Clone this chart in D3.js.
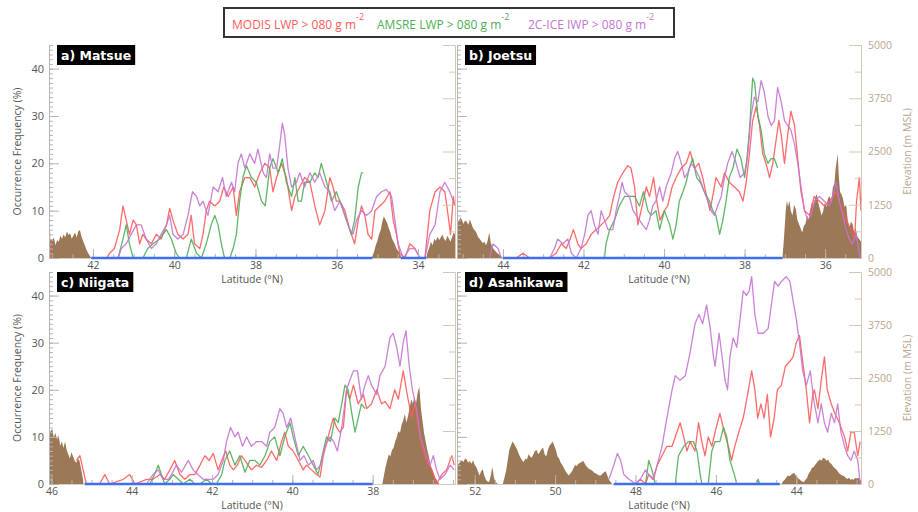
<!DOCTYPE html>
<html><head><meta charset="utf-8">
<script src="https://cdn.jsdelivr.net/npm/d3@7"></script>
<style>
body{margin:0;background:#fff;}
text{font-family:"Open Sans","DejaVu Sans",sans-serif;}
</style></head><body>
<svg id="chart" width="918" height="512"></svg>
<script>
// ---------- data: [latitude (°N), value] ----------
const seriesNames = ["MODIS LWP > 080 g m", "AMSRE LWP > 080 g m", "2C-ICE IWP > 080 g m"];
const panelTitles = ["a) Matsue", "b) Joetsu", "c) Niigata", "d) Asahikawa"];
const freqTicks = [0, 10, 20, 30, 40];
const elevTicks = [0, 1250, 2500, 3750, 5000];
const latTicksA = [42, 40, 38, 36, 34];
const latTicksB = [44, 42, 40, 38, 36];
const latTicksC = [46, 44, 42, 40, 38];
const latTicksD = [52, 50, 48, 46, 44];

// terrain elevation along the transect (m MSL)
const terrainA = [[43.08,300],[43.04,450],[43.0,400],[42.96,480],[42.92,300],[42.88,420],[42.84,380],[42.80,520],[42.76,450],[42.72,560],[42.68,480],[42.64,620],[42.60,540],[42.56,580],[42.52,450],[42.48,520],[42.44,600],[42.40,480],[42.36,620],[42.32,660],[42.28,500],[42.24,400],[42.20,300],[42.16,200],[42.12,120],[42.08,60],[42.04,0],
 [35.14,0],[35.08,150],[35.04,300],[35.0,400],[34.96,550],[34.92,650],[34.88,850],[34.84,980],[34.80,900],[34.76,820],[34.72,700],[34.68,600],[34.64,450],[34.60,380],[34.56,300],[34.52,200],[34.48,150],[34.44,80],[34.40,0],
 [33.80,0],[33.76,150],[33.72,250],[33.68,380],[33.64,300],[33.60,450],[33.56,400],[33.52,500],[33.48,420],[33.44,480],[33.40,550],[33.36,450],[33.32,400],[33.28,520],[33.24,450],[33.20,380],[33.16,500],[33.12,600],[33.09,550]];
const terrainB = [[45.14,900],[45.10,850],[45.06,950],[45.02,900],[44.98,800],[44.94,880],[44.90,850],[44.86,780],[44.82,900],[44.78,800],[44.74,700],[44.70,650],[44.66,600],[44.62,500],[44.58,450],[44.54,400],[44.50,350],[44.46,380],[44.42,300],[44.38,400],[44.34,600],[44.30,350],[44.26,250],[44.22,200],[44.18,150],[44.12,100],[44.06,50],[44.00,0],
 [37.06,0],[37.02,500],[36.98,1100],[36.95,1350],[36.92,1200],[36.89,1350],[36.85,1100],[36.81,1000],[36.77,1250],[36.73,1150],[36.69,900],[36.65,800],[36.61,700],[36.57,600],[36.53,750],[36.49,800],[36.45,1000],[36.41,900],[36.37,1100],[36.33,1300],[36.29,1200],[36.25,1400],[36.21,1500],[36.17,1300],[36.13,1150],[36.09,1000],[36.05,1100],[36.01,1300],[35.97,1200],[35.93,1400],[35.89,1450],[35.85,1300],[35.81,1650],[35.77,1750],[35.74,2100],[35.71,2300],[35.69,2450],[35.66,1900],[35.63,1550],[35.60,1500],[35.56,1400],[35.52,1200],[35.48,1250],[35.44,900],[35.40,700],[35.36,850],[35.32,800],[35.28,600],[35.24,700],[35.20,500],[35.16,450],[35.11,380]];
const terrainC = [[46.06,1150],[46.02,1250],[45.98,1300],[45.94,1100],[45.90,1200],[45.86,1050],[45.82,1150],[45.78,900],[45.74,1000],[45.70,850],[45.66,1000],[45.62,800],[45.58,700],[45.54,600],[45.50,750],[45.46,650],[45.42,550],[45.38,500],[45.34,600],[45.30,550],[45.26,350],[45.22,150],[45.20,0],
 [37.76,0],[37.72,200],[37.68,400],[37.64,550],[37.60,700],[37.56,650],[37.52,800],[37.48,850],[37.44,1000],[37.40,1100],[37.36,1250],[37.32,1200],[37.28,1400],[37.24,1500],[37.20,1650],[37.16,1450],[37.12,1600],[37.08,1800],[37.04,2000],[37.00,1900],[36.96,2050],[36.92,1900],[36.88,2150],[36.84,2300],[36.80,1800],[36.76,1500],[36.72,1200],[36.68,1000],[36.64,800],[36.60,650],[36.56,450],[36.52,350],[36.48,250],[36.44,150],[36.40,80],[36.34,0]];
const terrainD = [[52.44,400],[52.40,480],[52.36,520],[52.32,560],[52.28,520],[52.24,600],[52.20,580],[52.16,500],[52.12,540],[52.08,480],[52.04,560],[52.00,450],[51.96,400],[51.92,300],[51.88,200],[51.84,300],[51.80,350],[51.76,200],[51.72,100],[51.68,60],[51.64,50],[51.60,200],[51.56,400],[51.52,150],[51.48,50],[51.42,0],[51.30,0],[51.26,150],[51.22,300],[51.18,550],[51.14,800],[51.10,900],[51.06,1000],[51.02,950],[50.98,880],[50.94,800],[50.90,700],[50.86,620],[50.82,560],[50.78,520],[50.74,600],[50.70,580],[50.66,700],[50.62,650],[50.58,620],[50.54,700],[50.50,780],[50.46,800],[50.42,700],[50.38,750],[50.34,820],[50.30,860],[50.26,700],[50.22,650],[50.18,800],[50.14,900],[50.10,950],[50.06,1000],[50.02,900],[49.98,800],[49.94,650],[49.90,600],[49.86,500],[49.82,450],[49.78,380],[49.74,300],[49.70,250],[49.66,200],[49.62,250],[49.58,300],[49.54,380],[49.50,450],[49.46,420],[49.42,480],[49.38,500],[49.34,520],[49.30,550],[49.26,480],[49.22,420],[49.18,380],[49.14,350],[49.10,330],[49.06,300],[49.02,260],[48.98,250],[48.94,220],[48.90,200],[48.86,200],[48.82,250],[48.78,280],[48.74,300],[48.70,200],[48.66,100],[48.62,50],[48.58,0],
 [44.37,0],[44.33,60],[44.29,100],[44.25,150],[44.21,200],[44.17,180],[44.13,220],[44.09,250],[44.05,260],[44.01,200],[43.97,150],[43.93,120],[43.89,80],[43.85,60],[43.81,50],[43.77,100],[43.73,150],[43.69,250],[43.65,300],[43.61,380],[43.57,400],[43.53,450],[43.49,500],[43.45,550],[43.41,580],[43.37,550],[43.33,620],[43.29,600],[43.25,550],[43.21,580],[43.17,500],[43.13,480],[43.09,420],[43.05,380],[43.01,350],[42.97,300],[42.93,250],[42.89,220],[42.85,200],[42.81,180],[42.77,150],[42.73,120],[42.69,150],[42.65,100],[42.61,120],[42.57,100],[42.53,150],[42.49,130],[42.45,150],[42.41,100],[42.39,80]];

// sea stretches of each transect [from, to]
const seaA = [[42.04,35.12],[34.42,33.80]];
const seaB = [[44.00,37.06]];
const seaC = [[45.17,38.00]];
const seaD = [[48.54,44.41]];

// occurrence frequency (%), null = gap
const modisA = [[43.08,8.5],[43.06,3],[43.04,0],[43.0,null],[41.66,0],[41.59,1],[41.47,2],[41.34,6],[41.26,11],[41.18,8],[41.10,5],[41.01,8],[40.93,7],[40.85,3],[40.77,5],[40.69,4],[40.56,3],[40.44,5],[40.32,4],[40.19,7],[40.11,10.5],[40.03,8],[39.91,5],[39.78,4],[39.66,5],[39.58,9],[39.50,3],[39.37,2],[39.29,5],[39.21,10],[39.13,12],[39.00,11],[38.88,12],[38.78,15],[38.67,13],[38.55,15],[38.47,9],[38.39,14],[38.26,17],[38.14,17],[38.02,15],[37.89,18],[37.77,20],[37.65,19],[37.57,14],[37.48,17],[37.36,20],[37.24,17],[37.11,10],[37.03,13],[36.91,15],[36.79,17],[36.66,16],[36.54,11],[36.42,7],[36.29,10],[36.17,17],[36.09,15],[36.01,12],[35.92,12],[35.80,10],[35.68,6],[35.56,3],[35.47,8],[35.39,11],[35.31,9],[35.23,5],[35.14,4],[35.06,10],[34.94,11],[34.82,12],[34.69,14],[34.61,8],[34.53,5],[34.45,1],[34.32,0],[34.20,3],[34.08,2],[33.95,0],[33.83,0],[33.71,10],[33.58,14],[33.46,15],[33.34,14],[33.26,9],[33.20,5],[33.13,13],[33.10,11]];
const amsreA = [[41.38,0],[41.26,4],[41.18,7],[41.10,3],[41.01,0],[40.77,0],[40.65,2],[40.52,3],[40.36,4],[40.19,6],[40.07,4],[39.95,1],[39.87,0],[39.70,0],[39.58,4],[39.45,1],[39.33,0],[39.21,3],[39.09,7],[39.00,9],[38.92,7],[38.84,3],[38.76,0],[38.63,0],[38.55,2],[38.47,5],[38.39,12],[38.31,17],[38.22,19.5],[38.10,17],[37.98,16],[37.85,12],[37.76,11],[37.65,19],[37.57,21],[37.44,18],[37.34,21],[37.24,16],[37.11,13],[37.03,17],[36.95,12],[36.87,12],[36.79,16],[36.66,16],[36.54,18],[36.46,17],[36.38,20],[36.25,16],[36.13,12],[36.01,14],[35.88,11],[35.76,8],[35.64,5],[35.56,8],[35.47,15],[35.39,18],[35.35,18]];
const iceA = [[41.38,0],[41.30,2],[41.18,3],[41.06,5],[40.93,7],[40.81,7],[40.69,4],[40.56,2],[40.44,3],[40.32,5],[40.19,7],[40.11,9],[40.03,5],[39.91,4],[39.78,5],[39.66,9],[39.55,14],[39.45,13],[39.37,11],[39.29,12],[39.17,9],[39.04,15],[38.92,14],[38.81,17],[38.72,13],[38.59,16],[38.51,14],[38.43,20],[38.35,22],[38.26,19],[38.14,22],[38.02,20],[37.94,23],[37.81,18],[37.73,17],[37.65,22],[37.57,19],[37.48,19],[37.40,24],[37.34,28.5],[37.28,26],[37.20,19],[37.11,15],[36.99,16],[36.91,18],[36.79,15],[36.66,18],[36.54,16],[36.42,18],[36.29,15],[36.17,14],[36.05,10],[35.92,12],[35.80,9],[35.68,6],[35.60,5],[35.51,8],[35.39,10],[35.27,9],[35.14,10],[35.02,13],[34.90,14],[34.78,14.5],[34.65,13],[34.57,8],[34.49,3],[34.36,0],[34.20,2],[34.08,2],[33.95,0],[33.83,0],[33.71,5],[33.58,7],[33.46,14],[33.34,16],[33.22,14],[33.13,12]];

const modisB = [[43.67,0],[43.50,1],[43.34,0],[42.84,0],[42.68,1],[42.55,3],[42.43,2],[42.33,4],[42.25,6],[42.14,3],[42.06,2],[41.93,3],[41.81,5],[41.68,6],[41.56,7],[41.44,8],[41.35,9],[41.25,13],[41.15,16],[41.02,18],[40.90,19.5],[40.82,19],[40.73,15],[40.65,7],[40.57,10],[40.44,15],[40.36,13],[40.26,17],[40.18,12],[40.10,8],[39.99,10],[39.91,11],[39.80,15],[39.70,17],[39.57,19],[39.45,20],[39.35,22.5],[39.24,19],[39.14,20],[39.04,17],[38.94,13],[38.86,10],[38.77,14],[38.71,17],[38.58,15],[38.50,18],[38.38,16],[38.25,15],[38.13,14],[38.04,12],[37.96,16],[37.88,22],[37.80,29],[37.71,32],[37.63,28],[37.55,22],[37.47,20],[37.38,17],[37.30,20],[37.20,26],[37.15,29],[37.09,26],[37.01,20],[36.93,26],[36.85,31],[36.76,28],[36.68,21],[36.60,14],[36.51,10],[36.39,9],[36.27,13],[36.14,12],[36.02,11],[35.89,12],[35.73,14],[35.60,11],[35.48,8],[35.36,6],[35.27,4],[35.22,12],[35.15,17],[35.11,10]];
const amsreB = [[41.48,0],[41.44,3],[41.35,6],[41.23,8],[41.11,11],[40.98,13],[40.86,13],[40.73,13],[40.61,11],[40.51,14],[40.40,10],[40.32,9],[40.20,10],[40.11,6],[39.99,10],[39.86,7],[39.78,4],[39.70,7],[39.62,12],[39.53,14],[39.45,16],[39.37,19],[39.29,21],[39.19,17],[39.10,16],[39.00,14],[38.87,12],[38.79,10],[38.71,9],[38.62,5],[38.54,8],[38.46,12],[38.38,17],[38.29,19],[38.19,23],[38.09,21],[38.00,17],[37.95,20],[37.88,27],[37.80,38],[37.75,37],[37.67,30],[37.59,27],[37.51,22],[37.42,20],[37.34,21],[37.26,21],[37.18,19]];
const iceB = [[44.33,0],[44.25,3],[44.12,2],[44.04,0],[44.0,null],[42.84,0],[42.72,2],[42.64,4],[42.51,3],[42.39,4],[42.30,1],[42.18,0],[42.06,2],[41.97,5],[41.89,9],[41.81,10],[41.73,7],[41.64,5],[41.56,10],[41.48,8],[41.39,6],[41.27,6],[41.19,10],[41.11,13],[41.04,16],[40.98,14],[40.86,13],[40.77,10],[40.69,9],[40.61,8],[40.53,7],[40.44,6],[40.36,8],[40.28,11],[40.20,12],[40.11,15],[40.03,12],[39.95,15],[39.82,18],[39.74,21],[39.66,22.5],[39.57,20],[39.49,17],[39.41,18],[39.33,20],[39.24,19],[39.12,17],[39.00,14],[38.91,12],[38.83,10],[38.75,9],[38.67,11],[38.58,13],[38.50,17],[38.42,20],[38.31,22.5],[38.21,20],[38.11,17],[38.00,18],[37.92,22],[37.84,30],[37.76,34],[37.67,33],[37.59,37.5],[37.51,35],[37.42,30],[37.34,28],[37.26,29],[37.18,36],[37.09,33],[37.01,29],[36.93,28],[36.85,27],[36.76,24],[36.68,20],[36.60,15],[36.51,10],[36.43,8],[36.35,9],[36.27,12],[36.14,13],[36.02,12],[35.89,11],[35.81,13],[35.73,16],[35.65,12],[35.56,9],[35.48,6],[35.40,4],[35.32,3],[35.23,5],[35.13,0]];

const modisC = [[45.38,5],[45.29,6],[45.21,3],[45.13,0],[44.80,0],[44.67,2],[44.55,0],[44.21,1],[44.05,2],[43.92,0],[43.63,1],[43.47,1],[43.30,2],[43.18,1],[43.05,3],[42.93,5],[42.80,2],[42.68,1],[42.55,2],[42.43,2],[42.30,4],[42.18,6],[42.07,5],[41.97,6.5],[41.85,3],[41.76,5],[41.66,7],[41.56,4],[41.47,3],[41.37,4],[41.27,6],[41.14,4.5],[41.02,3],[40.89,4],[40.77,3.5],[40.64,5],[40.52,7],[40.39,5],[40.27,9],[40.19,11],[40.10,8],[39.98,7],[39.85,5],[39.73,3],[39.65,4],[39.52,3],[39.40,2],[39.31,1.5],[39.23,6],[39.11,10],[38.98,14],[38.90,12],[38.82,11],[38.73,12],[38.65,20],[38.57,18],[38.48,21],[38.36,17],[38.23,19],[38.15,16],[38.03,17],[37.90,20],[37.78,17],[37.69,17.5],[37.57,16],[37.45,20],[37.36,18],[37.24,24],[37.14,19],[37.03,14],[36.95,17],[36.86,12],[36.78,8],[36.66,5],[36.53,3],[36.41,0],[36.28,2],[36.16,3],[36.03,6],[35.97,4]];
const amsreC = [[43.55,0],[43.43,2],[43.34,4],[43.26,2],[43.18,0],[43.05,1],[42.97,2],[42.84,1],[42.72,0],[42.55,1],[42.43,0],[42.30,0],[42.14,1],[42.01,0],[41.89,0],[41.76,2],[41.68,5],[41.56,7],[41.43,4],[41.31,6],[41.18,2.5],[41.06,5],[40.93,5],[40.81,4],[40.68,6],[40.56,9],[40.44,10],[40.31,6],[40.19,10],[40.06,13],[39.98,10],[39.85,6],[39.73,8],[39.60,6],[39.48,4],[39.36,2],[39.23,7],[39.15,10],[39.05,9],[38.94,14],[38.86,13],[38.77,17],[38.69,21],[38.61,20],[38.52,15],[38.44,11],[38.36,14],[38.28,17],[38.19,16]];
const iceC = [[43.63,0],[43.47,2],[43.34,3],[43.22,1],[43.09,1],[43.01,2],[42.89,4],[42.76,2.5],[42.59,5],[42.47,3],[42.35,2],[42.22,1],[42.10,1],[41.97,1],[41.85,2],[41.72,5],[41.64,9],[41.54,12],[41.43,10],[41.35,11],[41.24,8],[41.14,10],[41.02,8],[40.89,9],[40.77,9],[40.64,8],[40.56,11],[40.44,12],[40.31,16],[40.23,15],[40.14,12],[40.04,14],[39.94,10],[39.81,5],[39.71,6],[39.60,4],[39.48,5],[39.40,3],[39.30,4],[39.19,8],[39.06,10],[38.97,9],[38.88,7],[38.77,12],[38.65,20],[38.57,22],[38.48,24],[38.38,24],[38.28,18],[38.19,21],[38.11,23],[38.03,21],[37.90,19],[37.82,23],[37.69,25],[37.57,31],[37.49,32],[37.40,29],[37.32,25],[37.24,30],[37.17,32.5],[37.09,25],[37.01,20],[36.91,16],[36.81,10],[36.70,7],[36.57,4],[36.49,6],[36.41,3],[36.32,1],[36.20,2],[36.07,4],[35.97,3]];

const modisD = [[48.00,0],[47.88,1],[47.75,0],[47.67,2],[47.55,1],[47.46,4],[47.34,6],[47.22,8],[47.09,8],[46.97,11],[46.89,13],[46.80,10],[46.72,7],[46.64,9],[46.52,7],[46.43,13],[46.35,9],[46.27,6],[46.19,10],[46.10,8],[46.02,11],[45.90,15],[45.79,11],[45.69,8],[45.61,5],[45.53,8],[45.43,11],[45.32,14],[45.21,19],[45.11,24],[45.03,20],[44.96,14],[44.88,17],[44.80,14],[44.72,19],[44.64,10],[44.55,14],[44.47,20],[44.37,21],[44.27,25],[44.16,26],[44.08,27],[44.00,30],[43.92,31.5],[43.84,26],[43.75,20],[43.67,13],[43.59,19],[43.55,20],[43.46,16],[43.38,22],[43.30,27],[43.23,20],[43.13,17],[43.04,15],[42.93,13],[42.80,10],[42.72,7],[42.64,11],[42.56,11],[42.47,6],[42.41,9]];
const amsreD = [[48.00,0],[47.75,0],[47.67,5],[47.59,3],[47.51,0],[47.01,0],[46.93,6],[46.80,8],[46.68,9],[46.56,9],[46.47,7],[46.39,2],[46.35,0],[46.19,0],[46.10,7],[46.02,9],[45.90,9],[45.81,12],[45.73,10],[45.65,5],[45.54,2],[45.48,0],[44.99,0],[44.95,1],[44.91,0]];
const iceD = [[48.66,1],[48.54,4],[48.45,6.5],[48.37,5],[48.29,2],[48.16,1],[48.00,0],[47.88,1],[47.75,3],[47.67,2],[47.57,1],[47.46,4],[47.34,8],[47.22,14],[47.09,20],[47.01,23],[46.89,22],[46.76,23],[46.64,28],[46.52,34],[46.42,36],[46.33,34],[46.23,38],[46.14,33],[46.06,27],[46.02,25],[45.92,32],[45.86,28],[45.77,22],[45.71,20],[45.65,27],[45.57,31],[45.48,29],[45.40,35],[45.32,41],[45.24,40],[45.17,41],[45.11,44],[45.03,36],[44.95,32],[44.82,32],[44.70,33],[44.62,38],[44.54,43],[44.45,42],[44.37,43],[44.25,44],[44.16,43],[44.08,39],[44.00,35],[43.92,30],[43.84,24],[43.75,21],[43.65,24],[43.57,18],[43.46,13],[43.38,17],[43.30,13],[43.22,11],[43.13,15],[43.05,13],[42.97,17],[42.89,11],[42.80,8],[42.72,6],[42.64,5],[42.56,7],[42.47,5],[42.41,0]];

// ---------- drawing ----------
const colors = {modis:"#ff5a5a", amsre:"#4fae55", ice:"#c476d2", sea:"#3f6ff0",
  terrain:"#9b7856", axis:"#b4b4b4", elevAxis:"#d6c6b4", text:"#555", elevText:"#bba58e"};

const panels = [
  {title:panelTitles[0], lat:[43.08,33.09], ticks:latTicksA, terrain:terrainA, sea:seaA, modis:modisA, amsre:amsreA, ice:iceA, left:49, right:455, top:45, bottom:258, yLabels:true, eLabels:false},
  {title:panelTitles[1], lat:[45.14,35.11], ticks:latTicksB, terrain:terrainB, sea:seaB, modis:modisB, amsre:amsreB, ice:iceB, left:457, right:861, top:45, bottom:258, yLabels:false, eLabels:true},
  {title:panelTitles[2], lat:[46.06,35.95], ticks:latTicksC, terrain:terrainC, sea:seaC, modis:modisC, amsre:amsreC, ice:iceC, left:49, right:455, top:272, bottom:484, yLabels:true, eLabels:false},
  {title:panelTitles[3], lat:[52.44,42.39], ticks:latTicksD, terrain:terrainD, sea:seaD, modis:modisD, amsre:amsreD, ice:iceD, left:457, right:861, top:272, bottom:484, yLabels:false, eLabels:true}
];

const svg = d3.select("#chart");
svg.append("rect").attr("width",918).attr("height",512).attr("fill","#fff");

panels.forEach(p => {
  const g = svg.append("g");
  const x = d3.scaleLinear().domain(p.lat).range([p.left, p.right]);
  const y = d3.scaleLinear().domain([0,45]).range([p.bottom, p.top]);
  const yE = d3.scaleLinear().domain([0,5000]).range([p.bottom, p.top]);
  const clipId = "clip" + p.title[0];
  svg.append("clipPath").attr("id", clipId).append("rect")
    .attr("x", p.left).attr("y", p.top - 2).attr("width", p.right - p.left).attr("height", p.bottom - p.top + 4);

  const plot = g.append("g").attr("clip-path", `url(#${clipId})`);

  // terrain
  plot.append("path").datum(p.terrain)
    .attr("d", d3.area().x(d => x(d[0])).y0(p.bottom).y1(d => yE(d[1])))
    .attr("fill", colors.terrain);

  // frequency lines
  const line = d3.line().defined(d => d[1] != null).x(d => x(d[0])).y(d => y(d[1]));
  [["modis",colors.modis],["amsre",colors.amsre],["ice",colors.ice]].forEach(([k,c]) => {
    plot.append("path").datum(p[k]).attr("d", line)
      .attr("fill","none").attr("stroke", c).attr("stroke-width", 1.3)
      .attr("stroke-linejoin","round").attr("opacity", 0.9);
  });

  // bottom (latitude) axis
  const minorLat = d3.range(Math.ceil(p.lat[1]*2)/2, p.lat[0], 0.5);
  g.append("g").attr("transform",`translate(0,${p.bottom})`)
    .call(d3.axisBottom(x).tickValues(minorLat).tickSize(-4).tickFormat(""))
    .call(a => a.select(".domain").attr("stroke","#d0d0d0"))
    .call(a => a.selectAll(".tick line").attr("stroke", colors.axis));
  g.append("g").attr("transform",`translate(0,${p.bottom})`)
    .call(d3.axisBottom(x).tickValues(p.ticks).tickSize(-9).tickPadding(4).tickSizeOuter(0))
    .call(a => a.select(".domain").remove())
    .call(a => a.selectAll(".tick line").attr("stroke", colors.axis))
    .call(a => a.selectAll("text").attr("fill", colors.text).attr("font-size", 10.5)
      .style("font-family", '"Open Sans", sans-serif'));
  g.append("text").attr("x", (p.left + p.right)/2).attr("y", p.bottom + 25)
    .attr("text-anchor","middle").attr("font-size", 10.5).attr("fill", colors.text)
    .text("Latitude (°N)");

  // sea stretches along the zero line
  p.sea.forEach(s => {
    g.append("line").attr("x1", x(s[0])).attr("x2", x(s[1]))
      .attr("y1", y(0)).attr("y2", y(0))
      .attr("stroke", colors.sea).attr("stroke-width", 2.5);
  });

  // left (frequency) axis
  g.append("g").attr("transform",`translate(${p.left},0)`)
    .call(d3.axisLeft(y).tickValues(d3.range(0,46,1)).tickSize(-4).tickFormat(""))
    .call(a => a.select(".domain").attr("stroke", colors.axis))
    .call(a => a.selectAll(".tick line").attr("stroke", colors.axis));
  g.append("g").attr("transform",`translate(${p.left},0)`)
    .call(d3.axisLeft(y).tickValues(freqTicks).tickSize(-10).tickPadding(5)
      .tickFormat(p.yLabels ? d3.format("d") : ""))
    .call(a => a.select(".domain").remove())
    .call(a => a.selectAll(".tick line").attr("stroke", colors.axis))
    .call(a => a.selectAll("text").attr("fill", colors.text).attr("font-size", 11)
      .style("font-family", '"Open Sans", sans-serif'));
  if (p.yLabels) {
    g.append("text").attr("transform",`translate(21,${(p.top+p.bottom)/2}) rotate(-90)`)
      .attr("text-anchor","middle").attr("font-size", 10.5).attr("fill", colors.text)
      .text("Occurrence Frequency (%)");
  }

  // right (elevation) axis
  g.append("g").attr("transform",`translate(${p.right},0)`)
    .call(d3.axisRight(yE).tickValues(d3.range(625,5000,1250)).tickSize(-6).tickFormat(""))
    .call(a => a.select(".domain").attr("stroke", colors.elevAxis))
    .call(a => a.selectAll(".tick line").attr("stroke", colors.elevAxis));
  g.append("g").attr("transform",`translate(${p.right},0)`)
    .call(d3.axisRight(yE).tickValues(elevTicks).tickSize(-12).tickPadding(7)
      .tickFormat(p.eLabels ? d3.format("d") : ""))
    .call(a => a.select(".domain").remove())
    .call(a => a.selectAll(".tick line").attr("stroke", colors.elevAxis))
    .call(a => a.selectAll("text").attr("fill", colors.elevText).attr("font-size", 10.5)
      .style("font-family", '"Open Sans", sans-serif'));
  if (p.eLabels) {
    g.append("text").attr("transform",`translate(907,${(p.top+p.bottom)/2}) rotate(-90)`)
      .attr("text-anchor","middle").attr("dy","0.35em").attr("font-size", 10.5).attr("fill", colors.elevText)
      .text("Elevation (m MSL)");
  }

  // panel title box
  const tb = g.append("g");
  const rect = tb.append("rect").attr("x", p.left + 8).attr("y", p.top).attr("height", 20).attr("fill", "#000");
  const t = tb.append("text").attr("x", p.left + 12).attr("y", p.top + 14.5)
    .attr("fill","#fff").attr("font-size", 12.5).attr("font-weight","bold")
    .style("font-family", '"DejaVu Sans", sans-serif').text(p.title);
  rect.attr("width", t.node().getComputedTextLength() + 8);
});

// legend
const leg = svg.append("g");
leg.append("rect").attr("x", 224).attr("y", 8).attr("width", 450).attr("height", 29)
  .attr("fill", "#fff").attr("stroke", "#333").attr("stroke-width", 2);
const legItems = [[seriesNames[0], colors.modis, 232], [seriesNames[1], colors.amsre, 377], [seriesNames[2], colors.ice, 528]];
legItems.forEach(([label, c, lx]) => {
  const t = leg.append("text").attr("x", lx).attr("y", 29).attr("fill", c).attr("font-size", 12);
  t.append("tspan").text(label);
  t.append("tspan").attr("dy", -9).attr("font-size", 9).text("-2");
});
</script>
</body></html>
